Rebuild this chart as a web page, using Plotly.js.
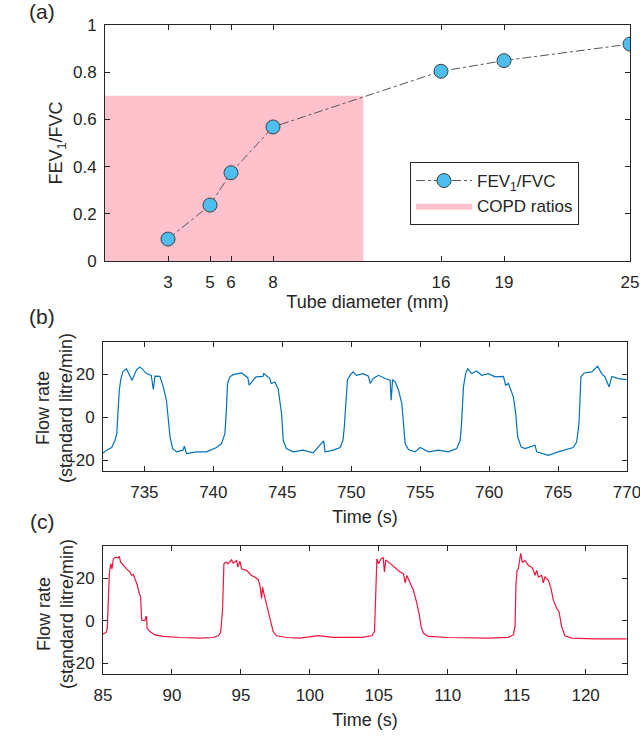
<!DOCTYPE html>
<html>
<head>
<meta charset="utf-8">
<script src="https://cdn.plot.ly/plotly-3.0.1.min.js"></script>
<style>
  html, body { margin: 0; padding: 0; background: #ffffff; }
  #chart { width: 640px; height: 748px; }
</style>
</head>
<body>
<div id="chart"></div>
<script>
// (a) FEV1/FVC against tube diameter
const tubeDiameter = [3, 5, 6, 8, 16, 19, 25];
const fevFvc = [0.093, 0.237, 0.374, 0.568, 0.804, 0.849, 0.919];
const copdMaxDiameter = 12.3;   // right edge of the pink band
const copdMaxRatio = 0.7;       // FEV1/FVC below 0.7 -> COPD

// (b) flow rate
const timeB = [
  732.0, 732.27, 732.63, 732.87, 733.0, 733.1, 733.18, 733.28, 733.43, 733.7,
  734.1, 734.44, 734.68, 735.16, 735.5, 735.65, 735.77, 736.13, 736.37, 736.6,
  736.73, 736.86, 737.05, 737.34, 737.8, 737.9, 738.06, 738.79, 739.5, 740.24,
  740.6, 740.84, 740.96, 741.03, 741.2, 741.44, 742.05, 742.5, 742.6, 743.1,
  743.6, 743.66, 744.1, 744.2, 744.46, 744.7, 744.95, 745.07, 745.3, 745.8,
  746.5, 747.24, 748.0, 748.1, 748.7, 749.2, 749.4, 749.5, 749.66, 749.73,
  749.95, 750.14, 750.38, 750.86, 751.25, 751.37, 751.6, 751.98, 752.46, 752.82,
  752.9, 753.0, 753.2, 753.43, 753.67, 753.79, 753.91, 754.15, 754.63, 755.0,
  755.6, 756.33, 757.05, 757.65, 757.9, 758.0, 758.14, 758.3, 758.45, 758.74,
  759.1, 759.46, 759.95, 760.43, 761.04, 761.2, 761.4, 761.76, 761.93, 762.07,
  762.32, 762.6, 763.33, 763.45, 764.3, 765.0, 765.5, 766.1, 766.35, 766.52,
  766.66, 766.9, 767.44, 767.68, 767.87, 768.16, 768.4, 768.7, 768.9, 769.37,
  769.97
];
const flowB = [
  -16.6, -15.3, -14.1, -10.7, -7.6, 4.8, 12.6, 17.2, 21.1, 22.6,
  17.2, 22.2, 23.4, 20.3, 19.5, 12.9, 19.1, 19.0, 14.1, 7.9,
  0.2, -9.1, -14.6, -16.1, -15.3, -13.5, -16.9, -16.1, -16.1, -14.1,
  -12.2, -7.6, 4.8, 15.7, 18.8, 19.8, 20.6, 18.4, 14.9, 18.8,
  19.0, 20.3, 18.0, 15.7, 16.4, 13.3, 1.7, -10.7, -14.6, -16.1,
  -15.3, -16.6, -11.0, -16.1, -15.3, -14.1, -10.7, -4.5, 11.0, 17.5,
  19.8, 21.1, 19.5, 20.3, 19.1, 15.7, 18.0, 19.5, 18.0, 17.2,
  7.9, 17.5, 16.4, 12.6, 6.4, -2.9, -12.2, -15.0, -16.1, -14.1,
  -16.1, -15.3, -16.1, -14.6, -10.7, -2.9, 14.1, 20.3, 22.6, 20.3,
  21.5, 19.5, 20.3, 18.8, 19.0, 14.9, 15.7, 9.5, 1.7, -9.1,
  -13.8, -14.6, -13.0, -16.1, -17.7, -16.1, -15.3, -14.1, -11.5, -2.9,
  18.8, 20.6, 21.1, 22.6, 23.7, 20.3, 18.8, 14.1, 19.0, 18.0,
  17.5
];

// (c) flow rate
const timeC = [
  85.0, 85.22, 85.31, 85.41, 85.46, 85.56, 85.65, 85.75, 85.94, 86.1,
  86.18, 86.28, 86.47, 86.71, 86.96, 87.08, 87.2, 87.32, 87.49, 87.63,
  87.73, 87.8, 87.97, 88.04, 88.1, 88.16, 88.2, 88.4, 88.77, 89.37,
  90.58, 92.03, 93.0, 93.36, 93.53, 93.67, 93.77, 93.91, 94.08, 94.32,
  94.44, 94.69, 94.78, 94.93, 95.05, 95.41, 95.77, 96.01, 96.26, 96.38,
  96.5, 96.57, 96.67, 96.86, 97.1, 97.34, 97.58, 98.31, 99.28, 100.6,
  101.69, 103.77, 104.5, 104.69, 104.78, 104.86, 104.98, 105.17, 105.32, 105.41,
  105.51, 105.82, 106.19, 106.55, 106.79, 106.91, 107.03, 107.27, 107.51, 107.76,
  107.92, 108.07, 108.24, 108.6, 110.05, 112.95, 114.4, 114.76, 114.88, 114.95,
  115.03, 115.12, 115.2, 115.29, 115.41, 115.6, 115.85, 116.09, 116.21, 116.33,
  116.45, 116.57, 116.81, 116.93, 117.05, 117.3, 117.49, 117.66, 117.9, 118.07,
  118.26, 118.5, 118.99, 120.68, 122.97
];
const flowC = [
  -6.2, -5.6, -3.6, 12.7, 22.0, 26.7, 24.3, 29.0, 29.8, 29.5,
  30.1, 27.4, 25.9, 24.3, 22.8, 21.2, 21.7, 19.7, 16.6, 12.7,
  11.2, 0.3, 0.0, 0.0, 1.6, 2.2, -3.6, -5.1, -6.7, -7.4,
  -7.9, -8.2, -7.9, -7.1, -5.6, 5.0, 26.7, 27.4, 26.7, 28.5,
  27.0, 28.2, 25.1, 27.9, 24.3, 23.6, 21.2, 20.5, 19.2, 16.6,
  10.4, 15.8, 12.7, 7.3, 0.3, -5.1, -7.1, -7.9, -8.2, -7.0,
  -7.8, -7.8, -7.1, -5.1, 12.7, 29.0, 26.7, 29.0, 29.5, 22.8,
  28.5, 26.7, 24.8, 22.8, 22.0, 17.7, 21.2, 18.1, 14.3, 8.1,
  3.4, -2.8, -5.9, -7.4, -7.9, -8.2, -7.8, -6.7, -2.8, 17.4,
  23.6, 24.3, 27.4, 31.6, 27.4, 28.2, 25.9, 25.1, 23.6, 21.2,
  23.6, 20.5, 21.2, 17.7, 20.5, 18.9, 15.0, 9.6, 5.7, 4.2,
  -2.8, -7.1, -8.2, -8.5, -8.5
];

const timeTicksB = [735, 740, 745, 750, 755, 760, 765, 770];
const timeTicksC = [85, 90, 95, 100, 105, 110, 115, 120];
const flowTicks = [-20, 0, 20];
const flowTickText = ['-20', '0', '20'];
const ratioTicks = [0, 0.2, 0.4, 0.6, 0.8, 1];

const ink = '#262626';
const font = 'Liberation Sans, Arial, Helvetica, sans-serif';
const flowTitle = 'Flow rate<br>(standard litre/min)';

// shared MATLAB-ish box axis look
const boxAxis = {
  showline: true, linecolor: ink, linewidth: 1, mirror: 'ticks',
  ticks: 'inside', ticklen: 5, tickwidth: 1, tickcolor: ink,
  showgrid: false, zeroline: false, ticklabeloverflow: 'allow',
  tickfont: { family: font, size: 17, color: ink }
};
const axisTitle = (text, standoff) => ({
  text: text, standoff: standoff, font: { family: font, size: 18, color: ink }
});

const traces = [
  {
    // pink COPD band, drawn first so it sits under the line
    x: [0, copdMaxDiameter, copdMaxDiameter, 0, 0],
    y: [0, 0, copdMaxRatio, copdMaxRatio, 0],
    type: 'scatter', mode: 'lines', fill: 'toself',
    fillcolor: '#FFC2CC', line: { width: 0, color: '#FFC2CC' },
    name: 'COPD ratios', legendrank: 2, xaxis: 'x', yaxis: 'y'
  },
  {
    x: tubeDiameter, y: fevFvc,
    type: 'scatter', mode: 'lines+markers',
    line: { color: '#555555', width: 1, dash: 'dashdot' },
    marker: { size: 14, color: '#4DBEEE', line: { color: '#404040', width: 1 } },
    name: 'FEV<sub>1</sub>/FVC', legendrank: 1, xaxis: 'x', yaxis: 'y'
  },
  {
    x: timeB, y: flowB, type: 'scatter', mode: 'lines',
    line: { color: '#0072BD', width: 1.2 },
    showlegend: false, xaxis: 'x2', yaxis: 'y2'
  },
  {
    x: timeC, y: flowC, type: 'scatter', mode: 'lines',
    line: { color: '#F0143C', width: 1.2 },
    showlegend: false, xaxis: 'x3', yaxis: 'y3'
  }
];

const note = (text, x, y, size, angle) => ({
  text: text, xref: 'paper', yref: 'paper', x: x / 640, y: 1 - y / 748,
  xanchor: 'center', yanchor: 'middle', showarrow: false, textangle: angle || 0,
  font: { family: font, size: size, color: ink }
});

const layout = {
  width: 640, height: 748,
  margin: { l: 0, r: 0, t: 0, b: 0 },
  paper_bgcolor: '#ffffff', plot_bgcolor: 'rgba(0,0,0,0)',
  font: { family: font, color: ink },
  showlegend: true,
  legend: {
    x: 410 / 640, y: 1 - 162 / 748, xanchor: 'left', yanchor: 'top',
    bgcolor: '#ffffff', bordercolor: ink, borderwidth: 1,
    font: { family: font, size: 17, color: ink },
    itemwidth: 56, tracegroupgap: 0
  },
  xaxis: Object.assign({}, boxAxis, {
    domain: [105 / 640, 630 / 640], anchor: 'y', range: [0, 25],
    tickvals: tubeDiameter, ticklabelstandoff: 6,
    title: axisTitle('Tube diameter (mm)', 3)
  }),
  yaxis: Object.assign({}, boxAxis, {
    domain: [1 - 261 / 748, 1 - 25 / 748], anchor: 'x', range: [0, 1],
    tickvals: ratioTicks, ticklabelstandoff: 4,
    title: axisTitle('FEV<sub>1</sub>/FVC', 5)
  }),
  xaxis2: Object.assign({}, boxAxis, {
    domain: [103 / 640, 627 / 640], anchor: 'y2', range: [732, 770],
    tickvals: timeTicksB, ticklabelstandoff: 6,
    title: axisTitle('Time (s)', 8)
  }),
  yaxis2: Object.assign({}, boxAxis, {
    domain: [1 - 471 / 748, 1 - 342 / 748], anchor: 'x2', range: [-25, 35],
    tickvals: flowTicks, ticktext: flowTickText, ticklabelstandoff: 4
  }),
  xaxis3: Object.assign({}, boxAxis, {
    domain: [103 / 640, 627 / 640], anchor: 'y3', range: [85, 123],
    tickvals: timeTicksC, ticklabelstandoff: 6,
    title: axisTitle('Time (s)', 8)
  }),
  yaxis3: Object.assign({}, boxAxis, {
    domain: [1 - 674 / 748, 1 - 546 / 748], anchor: 'x3', range: [-25, 35],
    tickvals: flowTicks, ticktext: flowTickText, ticklabelstandoff: 4
  }),
  annotations: [
    note('(a)', 42, 12, 21),
    note('(b)', 42, 316, 21),
    note('(c)', 42, 521, 21),
    note(flowTitle, 55, 408, 18, -90),
    note(flowTitle, 55, 614, 18, -90)
  ]
};

Plotly.newPlot('chart', traces, layout, { staticPlot: true });
</script>
</body>
</html>
